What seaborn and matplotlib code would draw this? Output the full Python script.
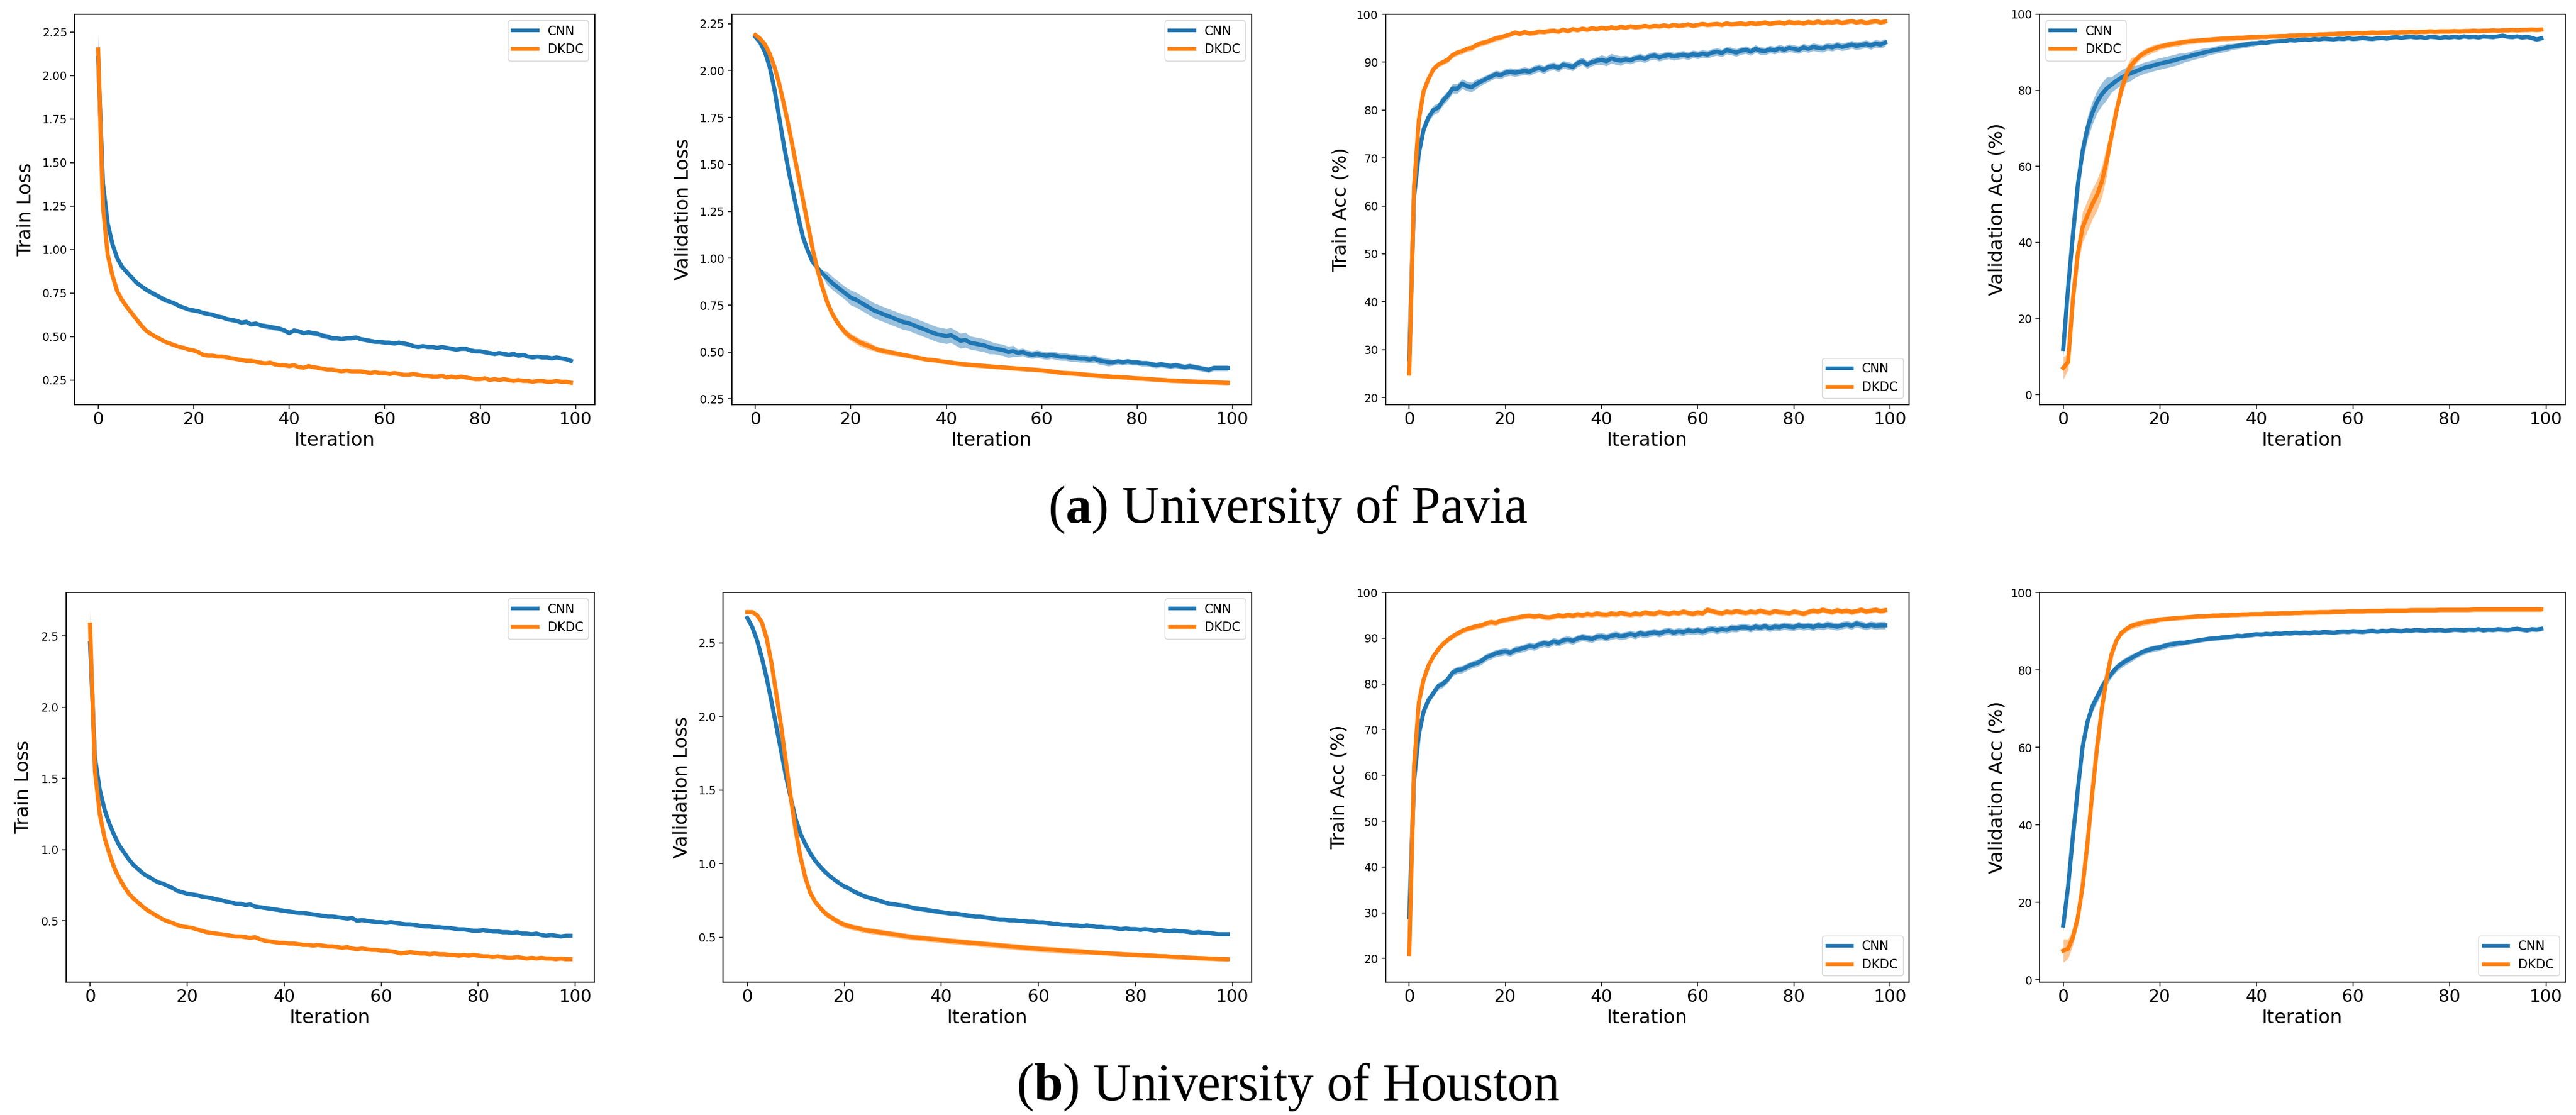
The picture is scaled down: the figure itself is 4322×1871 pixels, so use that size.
import numpy as np
import pandas as pd
import matplotlib
matplotlib.use("Agg")
import matplotlib.pyplot as plt
from matplotlib.lines import Line2D
import seaborn as sns

# ---------------- data ----------------
iterations = list(range(100))
models = ["CNN", "DKDC"]
colors = ["#1f77b4", "#ff7f0e"]

pavia_train_loss_cnn = [2.10,1.38,1.15,1.03,0.95,0.90,0.87,0.84,0.81,0.79,0.77,0.755,0.74,0.725,0.71,0.70,0.69,0.675,0.665,0.655,
 0.65,0.645,0.635,0.63,0.625,0.615,0.61,0.60,0.595,0.59,0.58,0.585,0.57,0.575,0.565,0.56,0.555,0.55,0.545,0.535,
 0.52,0.535,0.53,0.52,0.525,0.52,0.515,0.505,0.50,0.49,0.49,0.485,0.49,0.49,0.495,0.485,0.48,0.475,0.47,0.47,
 0.465,0.465,0.46,0.465,0.46,0.455,0.445,0.44,0.445,0.44,0.44,0.435,0.44,0.435,0.43,0.425,0.43,0.43,0.42,0.415,
 0.415,0.41,0.405,0.40,0.405,0.40,0.395,0.40,0.39,0.395,0.385,0.38,0.385,0.38,0.38,0.375,0.38,0.375,0.37,0.36]
pavia_train_loss_dkdc = [2.15,1.25,0.97,0.85,0.76,0.71,0.67,0.635,0.60,0.565,0.535,0.515,0.50,0.485,0.47,0.46,0.45,0.44,0.435,0.425,
 0.42,0.41,0.395,0.39,0.39,0.385,0.385,0.38,0.375,0.37,0.365,0.36,0.36,0.355,0.35,0.345,0.35,0.34,0.335,0.335,
 0.33,0.335,0.325,0.32,0.33,0.325,0.32,0.315,0.31,0.31,0.305,0.30,0.305,0.30,0.30,0.30,0.295,0.29,0.295,0.29,
 0.29,0.285,0.29,0.285,0.28,0.28,0.285,0.28,0.275,0.275,0.27,0.27,0.275,0.265,0.27,0.265,0.27,0.265,0.26,0.255,
 0.255,0.26,0.25,0.255,0.25,0.255,0.25,0.245,0.25,0.245,0.245,0.24,0.245,0.245,0.24,0.24,0.245,0.24,0.24,0.235]
pavia_val_loss_cnn = [2.18,2.15,2.10,2.02,1.90,1.75,1.60,1.46,1.34,1.22,1.11,1.04,0.98,0.95,0.92,0.895,0.87,0.85,0.83,0.81,
 0.79,0.78,0.765,0.75,0.735,0.72,0.71,0.70,0.69,0.68,0.67,0.66,0.655,0.645,0.635,0.625,0.615,0.605,0.595,0.59,
 0.585,0.59,0.575,0.56,0.565,0.55,0.545,0.54,0.535,0.525,0.52,0.515,0.51,0.50,0.505,0.495,0.50,0.49,0.485,0.49,
 0.485,0.48,0.485,0.48,0.475,0.475,0.47,0.47,0.465,0.465,0.46,0.465,0.455,0.45,0.445,0.445,0.45,0.445,0.45,0.445,
 0.445,0.44,0.44,0.435,0.43,0.435,0.43,0.425,0.43,0.425,0.42,0.425,0.42,0.415,0.41,0.405,0.415,0.415,0.415,0.415]
pavia_val_loss_dkdc = [2.19,2.17,2.14,2.09,2.02,1.93,1.82,1.70,1.57,1.44,1.31,1.18,1.05,0.94,0.85,0.77,0.71,0.665,0.63,0.60,
 0.58,0.565,0.55,0.54,0.53,0.52,0.51,0.505,0.50,0.495,0.49,0.485,0.48,0.475,0.47,0.465,0.46,0.458,0.455,0.45,
 0.447,0.444,0.44,0.437,0.434,0.432,0.43,0.428,0.426,0.424,0.422,0.42,0.418,0.416,0.414,0.412,0.41,0.408,0.407,0.405,
 0.403,0.40,0.397,0.394,0.39,0.388,0.387,0.385,0.383,0.38,0.378,0.376,0.374,0.372,0.37,0.368,0.368,0.366,0.364,0.362,
 0.36,0.359,0.357,0.355,0.353,0.352,0.35,0.348,0.347,0.346,0.345,0.344,0.343,0.342,0.341,0.34,0.339,0.338,0.337,0.336]
pavia_train_acc_cnn = [28,62,71,76,78.5,80,80.5,82,83,84.5,84.5,85.5,85,84.8,85.5,86,86.5,87,87.5,87.3,
 87.8,88,87.8,88,88.2,88,88.5,88.8,88.4,89,89.2,88.8,89.5,89.3,89,89.8,90.2,89.5,90,90.3,
 90.5,90.2,90.8,90.5,90.3,90.6,90.4,90.8,91,90.7,91.2,91.4,91,91.3,91.5,91.2,91.4,91.6,91.3,91.7,
 91.5,91.8,91.6,92,92.2,91.9,92.5,92.3,92,92.4,92.6,92.2,92.8,92.4,92.3,92.7,92.5,92.9,92.6,93,
 92.8,92.6,93.1,92.8,93.2,93,92.9,93.3,93.1,93.5,93.2,93.4,93.7,93.4,93.6,93.8,93.5,93.9,93.7,94.1]
pavia_train_acc_dkdc = [25,64,78,84,86.5,88.5,89.5,90,90.5,91.5,92,92.3,92.8,93,93.6,94,94.2,94.6,95,95.2,
 95.5,95.8,96.2,95.9,96.3,96,96.1,96.4,96.3,96.5,96.6,96.4,96.8,96.5,96.9,96.7,97,96.8,97.1,96.9,
 97.2,97,97.3,97.1,97.4,97.2,97.5,97.3,97.4,97.6,97.4,97.6,97.5,97.7,97.5,97.8,97.6,97.7,97.9,97.6,
 97.8,98,97.8,97.9,98,97.8,98.1,97.9,98,98.1,97.9,98.2,98,98.1,98.3,98,98.2,98.3,98.1,98.4,
 98.2,98.3,98.1,98.4,98.2,98.5,98.2,98.4,98.3,98.5,98.2,98.4,98.6,98.3,98.5,98.2,98.4,98.6,98.3,98.5]
pavia_val_acc_cnn = [12,28,42,55,64,70,74,77,79,80.5,81.5,82.5,83.3,84,84.5,85,85.5,86,86.3,86.7,
 87,87.3,87.6,87.9,88.3,88.6,88.9,89.3,89.6,89.9,90.2,90.5,90.8,91,91.3,91.5,91.7,91.9,92.1,92.3,
 92.4,92.6,92.5,92.8,92.9,93,93,93.2,93.1,93.3,93.4,93.3,93.5,93.4,93.6,93.5,93.4,93.6,93.5,93.7,
 93.5,93.6,93.8,93.6,93.5,93.7,93.8,93.6,93.9,94,93.8,94,94.1,93.9,94,93.8,94.1,94,93.8,94,
 93.9,94.1,93.9,94.2,94,94.1,93.9,94.2,94.1,94,94.2,94.4,94.1,94,94.2,93.9,94.1,93.8,93.4,93.7]
pavia_val_acc_dkdc = [7,8.5,25,37,44,47,50,52.5,56,61.5,68,74.5,80,84,86.5,88,89.2,90,90.6,91.1,
 91.5,91.8,92.1,92.3,92.5,92.7,92.9,93,93.1,93.2,93.3,93.4,93.5,93.6,93.6,93.7,93.8,93.8,93.9,94,
 94,94.1,94.1,94.2,94.2,94.3,94.3,94.4,94.4,94.5,94.5,94.6,94.6,94.7,94.7,94.8,94.8,94.9,94.9,95,
 95,95.1,95,95.1,95.2,95.1,95.2,95.2,95.3,95.2,95.3,95.3,95.4,95.3,95.4,95.4,95.5,95.4,95.5,95.5,
 95.5,95.6,95.5,95.6,95.6,95.7,95.6,95.7,95.7,95.8,95.7,95.8,95.8,95.9,95.8,95.9,95.9,96,95.9,96]
houston_train_loss_cnn = [2.45,1.65,1.42,1.28,1.18,1.10,1.03,0.98,0.93,0.89,0.86,0.83,0.81,0.79,0.77,0.76,0.745,0.73,0.71,0.70,
 0.69,0.685,0.68,0.67,0.665,0.66,0.65,0.645,0.635,0.63,0.62,0.62,0.61,0.615,0.60,0.595,0.59,0.585,0.58,0.575,
 0.57,0.565,0.56,0.555,0.555,0.55,0.545,0.54,0.535,0.53,0.53,0.525,0.52,0.515,0.52,0.50,0.505,0.50,0.495,0.49,
 0.49,0.485,0.49,0.485,0.48,0.475,0.475,0.47,0.465,0.46,0.46,0.455,0.455,0.45,0.45,0.445,0.44,0.44,0.435,0.43,
 0.43,0.435,0.43,0.425,0.425,0.42,0.42,0.415,0.42,0.41,0.41,0.405,0.41,0.40,0.395,0.40,0.395,0.39,0.395,0.395]
houston_train_loss_dkdc = [2.58,1.55,1.25,1.08,0.97,0.87,0.80,0.74,0.69,0.655,0.625,0.595,0.57,0.55,0.53,0.51,0.495,0.485,0.47,0.46,
 0.455,0.45,0.44,0.43,0.42,0.415,0.41,0.405,0.40,0.395,0.39,0.39,0.385,0.38,0.385,0.37,0.36,0.355,0.35,0.345,
 0.345,0.34,0.34,0.335,0.33,0.33,0.325,0.33,0.325,0.32,0.32,0.315,0.31,0.315,0.305,0.30,0.305,0.30,0.295,0.295,
 0.29,0.29,0.285,0.28,0.27,0.275,0.28,0.275,0.27,0.27,0.265,0.27,0.265,0.265,0.26,0.26,0.255,0.26,0.255,0.26,
 0.255,0.25,0.25,0.245,0.25,0.245,0.24,0.24,0.245,0.24,0.235,0.24,0.235,0.24,0.235,0.235,0.23,0.235,0.23,0.23]
houston_val_loss_cnn = [2.67,2.61,2.52,2.40,2.26,2.10,1.93,1.76,1.59,1.44,1.30,1.20,1.13,1.07,1.02,0.98,0.945,0.915,0.89,0.865,
 0.845,0.83,0.81,0.795,0.78,0.77,0.76,0.75,0.74,0.73,0.725,0.72,0.715,0.71,0.70,0.695,0.69,0.685,0.68,0.675,
 0.67,0.665,0.66,0.66,0.655,0.65,0.645,0.64,0.64,0.635,0.63,0.625,0.62,0.62,0.615,0.615,0.61,0.61,0.605,0.605,
 0.60,0.60,0.595,0.59,0.59,0.585,0.585,0.58,0.58,0.575,0.58,0.575,0.57,0.57,0.565,0.565,0.56,0.555,0.56,0.555,
 0.555,0.55,0.555,0.55,0.545,0.55,0.545,0.54,0.545,0.54,0.54,0.535,0.53,0.535,0.53,0.53,0.525,0.52,0.52,0.52]
houston_val_loss_dkdc = [2.71,2.71,2.69,2.64,2.53,2.36,2.15,1.93,1.68,1.44,1.22,1.04,0.90,0.80,0.74,0.70,0.665,0.64,0.62,0.60,
 0.585,0.575,0.565,0.56,0.55,0.545,0.54,0.535,0.53,0.525,0.52,0.515,0.51,0.505,0.50,0.497,0.494,0.49,0.487,0.484,
 0.48,0.477,0.474,0.471,0.468,0.465,0.462,0.459,0.456,0.453,0.45,0.447,0.444,0.441,0.438,0.435,0.432,0.429,0.426,0.423,
 0.42,0.418,0.416,0.414,0.411,0.409,0.407,0.405,0.403,0.401,0.399,0.397,0.395,0.393,0.391,0.389,0.387,0.385,0.383,0.381,
 0.38,0.378,0.376,0.375,0.373,0.371,0.37,0.368,0.366,0.365,0.363,0.361,0.36,0.358,0.357,0.355,0.354,0.352,0.351,0.35]
houston_train_acc_cnn = [29,59,69,74,76.5,78,79.5,80,81,82.5,83,83.2,83.7,84.2,84.5,85,85.8,86.2,86.7,86.9,
 87.1,86.8,87.4,87.6,87.9,88.3,88.1,88.6,88.9,88.7,89.3,89,89.5,89.7,89.4,89.9,90.2,90,89.8,90.3,
 90.4,90.1,90.5,90.7,90.4,90.6,90.9,90.6,91.1,90.8,91.1,91.3,91,91.4,91.6,91.2,91.5,91.3,91.7,91.5,
 91.7,91.4,91.8,92,91.7,92,91.8,92.2,92.1,92.4,92.4,92.1,92.5,92.3,92.6,92.2,92.5,92.4,92.7,92.5,
 92.4,92.8,92.5,92.7,92.4,92.8,92.6,92.9,92.7,92.5,92.8,93,92.7,93.2,92.9,92.6,92.9,92.7,92.8,92.8]
houston_train_acc_dkdc = [21,62,76,81,84,86,87.5,88.7,89.6,90.4,91,91.6,92,92.3,92.6,92.8,93.2,93.5,93.3,93.8,
 94,94.2,94.4,94.6,94.8,94.9,94.7,94.9,94.6,94.5,94.7,95,94.8,95.1,94.9,95.2,95,95.3,95.1,95.4,
 95.2,95.1,95.4,95.2,95.5,95.3,95.1,95.4,95.2,95.6,95.4,95.3,95.7,95.5,95.3,95.6,95.4,95.8,95.5,95.3,
 95.6,95.4,96.2,95.9,95.6,95.4,95.8,95.6,95.9,95.7,95.5,95.8,95.6,96,95.7,95.5,95.9,95.7,95.6,95.4,
 95.8,95.6,95.3,95.7,96,95.8,96.2,95.9,95.7,96.1,95.8,96,95.7,95.9,96.2,95.8,96,96.2,95.9,96.1]
houston_val_acc_cnn = [14,24,37,49,60,66.5,70.5,73,75.5,77.5,79,80.5,81.5,82.3,83,83.7,84.4,84.9,85.3,85.6,
 85.8,86.2,86.5,86.7,86.9,87,87.2,87.4,87.6,87.8,88,88.1,88.2,88.4,88.5,88.6,88.8,88.7,88.9,89,
 89.2,89.1,89.3,89.2,89.4,89.3,89.5,89.4,89.6,89.5,89.6,89.5,89.7,89.6,89.8,89.7,89.6,89.8,89.9,89.8,
 90,89.9,89.8,90,90.1,89.9,90.1,90,90.2,90.1,90,90.2,90.1,90.3,90.2,90.1,90.3,90.2,90.3,90.1,
 90.2,90.4,90.3,90.2,90.4,90.3,90.5,90.2,90.4,90.3,90.5,90.4,90.3,90.5,90.6,90.4,90.2,90.5,90.4,90.6]
houston_val_acc_dkdc = [7.5,8,11,16,24,35,48,60,70,78,84,87.5,89.5,90.5,91.3,91.7,92,92.3,92.5,92.7,
 93,93.1,93.2,93.3,93.4,93.5,93.6,93.7,93.8,93.8,93.9,94,94,94.1,94.1,94.2,94.2,94.3,94.3,94.4,
 94.4,94.4,94.5,94.5,94.5,94.6,94.6,94.6,94.7,94.7,94.8,94.8,94.8,94.9,94.9,94.9,95,95,95,95.1,
 95.1,95.1,95.1,95.2,95.2,95.2,95.2,95.3,95.3,95.3,95.3,95.3,95.4,95.4,95.4,95.4,95.4,95.4,95.5,95.5,
 95.5,95.5,95.5,95.5,95.5,95.6,95.6,95.6,95.6,95.6,95.6,95.6,95.6,95.6,95.6,95.6,95.6,95.6,95.6,95.6]

# run-to-run spread: first five iterations individually, then one value per block of five iterations
pavia_train_loss_cnn_sd = [0.14,0.03,0.02,0.015,0.015] + [0.012,0.015,0.012,0.012,0.012,0.012,0.015,0.012,0.015,0.012,0.012,0.012,0.012,0.012,0.012,0.012,0.012,0.012,0.012]
pavia_train_loss_dkdc_sd = [0.02,0.02,0.015,0.01,0.01] + [0.008]*19
pavia_val_loss_cnn_sd = [0.01]*5 + [0.01,0.015,0.035,0.04,0.04,0.04,0.04,0.04,0.035,0.03,0.02,0.02,0.02,0.02,0.015,0.015,0.015,0.015,0.015]
pavia_val_loss_dkdc_sd = [0.01]*5 + [0.01,0.012,0.02,0.02,0.015,0.012,0.012,0.012,0.012,0.012,0.012,0.012,0.012,0.012,0.012,0.012,0.012,0.012,0.012]
pavia_train_acc_cnn_sd = [3,2,1.5,1.0,1.0] + [1.0,1.0,0.8,0.8,0.8,0.8,0.8,1.0,0.8,0.8,0.8,0.8,0.8,0.8,0.8,0.8,0.8,0.8,0.8]
pavia_train_acc_dkdc_sd = [1.5,1.5,1.0,0.8,0.6] + [0.6,0.6,0.6,0.5,0.5,0.5,0.5,0.5,0.5,0.5,0.5,0.5,0.5,0.5,0.5,0.5,0.5,0.5,0.5]
pavia_val_acc_cnn_sd = [2,3,4,4,3] + [3,2,1.5,1.5,1.2,1.0,0.8,0.6,0.5,0.5,0.5,0.5,0.5,0.5,0.5,0.5,0.5,0.5,0.6]
pavia_val_acc_dkdc_sd = [3,2,2,3,4] + [4,2,1,0.8,0.7,0.7,0.7,0.6,0.6,0.6,0.6,0.6,0.6,0.6,0.6,0.6,0.6,0.6,0.6]
houston_train_loss_cnn_sd = [0.05,0.03,0.02,0.015,0.015] + [0.012]*19
houston_train_loss_dkdc_sd = [0.1,0.02,0.015,0.01,0.01] + [0.01]*19
houston_val_loss_cnn_sd = [0.01]*5 + [0.01,0.012,0.012,0.015,0.015,0.015,0.015,0.015,0.015,0.015,0.012,0.012,0.012,0.012,0.012,0.012,0.012,0.012,0.012]
houston_val_loss_dkdc_sd = [0.01]*5 + [0.01,0.01,0.02,0.02,0.02,0.02,0.02,0.02,0.02,0.02,0.02,0.02,0.02,0.015,0.015,0.015,0.015,0.015,0.015]
houston_train_acc_cnn_sd = [2,1.5,1,1,0.8] + [0.8]*19
houston_train_acc_dkdc_sd = [1,1,0.8,0.6,0.6] + [0.6]*19
houston_val_acc_cnn_sd = [1.5]*5 + [1.5,1.0,0.8,0.8,0.6,0.6,0.6,0.6,0.6,0.6,0.6,0.6,0.6,0.6,0.6,0.6,0.6,0.6,0.6]
houston_val_acc_dkdc_sd = [3,2.5,2,2,1.5] + [1.2,0.8,0.8,0.6,0.6,0.6,0.6,0.6,0.6,0.6,0.6,0.6,0.6,0.6,0.6,0.6,0.6,0.6,0.6]

y_labels = ["Train Loss", "Validation Loss", "Train Acc (%)", "Validation Acc (%)"]
titles = [r"($\mathbf{a}$) University of Pavia", r"($\mathbf{b}$) University of Houston"]

panels = [
    (pavia_train_loss_cnn, pavia_train_loss_dkdc, pavia_train_loss_cnn_sd, pavia_train_loss_dkdc_sd),
    (pavia_val_loss_cnn, pavia_val_loss_dkdc, pavia_val_loss_cnn_sd, pavia_val_loss_dkdc_sd),
    (pavia_train_acc_cnn, pavia_train_acc_dkdc, pavia_train_acc_cnn_sd, pavia_train_acc_dkdc_sd),
    (pavia_val_acc_cnn, pavia_val_acc_dkdc, pavia_val_acc_cnn_sd, pavia_val_acc_dkdc_sd),
    (houston_train_loss_cnn, houston_train_loss_dkdc, houston_train_loss_cnn_sd, houston_train_loss_dkdc_sd),
    (houston_val_loss_cnn, houston_val_loss_dkdc, houston_val_loss_cnn_sd, houston_val_loss_dkdc_sd),
    (houston_train_acc_cnn, houston_train_acc_dkdc, houston_train_acc_cnn_sd, houston_train_acc_dkdc_sd),
    (houston_val_acc_cnn, houston_val_acc_dkdc, houston_val_acc_cnn_sd, houston_val_acc_dkdc_sd),
]

# ---------------- layout / style ----------------
W, H = 4322, 1871
plt.rcParams.update({
    "mathtext.fontset": "custom",
    "mathtext.rm": "Liberation Serif",
    "mathtext.bf": "Liberation Serif:bold",
    "axes.linewidth": 1.3,
})

# axes boxes in pixels: (left, right, top, bottom)
boxes_px = [
    (125, 997.5, 24, 678.6), (1227.7, 2099.6, 24, 678.6),
    (2324.5, 3203, 24, 678.6), (3421.6, 4304, 24, 678.6),
    (110.8, 997.4, 994, 1647.6), (1213.5, 2100, 994, 1647.6),
    (2324.5, 3203, 994, 1647.6), (3421.6, 4304, 994, 1647.6),
]
ylims = [(0.110, 2.351), (0.221, 2.300), (18.56, 100), (-2.6, 100),
         (0.0706, 2.807), (0.196, 2.844), (14.9, 100), (-0.54, 100)]
yticks = [np.arange(0.25, 2.26, 0.25), np.arange(0.25, 2.26, 0.25), np.arange(20, 101, 10), np.arange(0, 101, 20),
          np.arange(0.5, 2.51, 0.5), np.arange(0.5, 2.51, 0.5), np.arange(20, 101, 10), np.arange(0, 101, 20)]
ytick_fmt = ["%.2f", "%.2f", "%d", "%d", "%.1f", "%.1f", "%d", "%d"]
legend_locs = ["upper right", "upper right", "lower right", "upper left",
               "upper right", "upper right", "lower right", "lower right"]
labelpads = [8.5, 8.5, 8, 5, 9.5, 8, 10, 5]

fig = plt.figure(figsize=(W / 100, H / 100), dpi=100)

for i, (cnn, dkdc, cnn_sd, dkdc_sd) in enumerate(panels):
    l, r, t, b = boxes_px[i]
    ax = fig.add_axes([l / W, 1 - b / H, (r - l) / W, (b - t) / H])
    rows = []
    for name, mean, sd in ((models[0], cnn, cnn_sd), (models[1], dkdc, dkdc_sd)):
        spread = np.concatenate([sd[:5], np.repeat(sd[5:], 5)])
        for k in (-1, 0, 1):
            rows.append(pd.DataFrame({"Iteration": iterations,
                                      "value": np.asarray(mean) + k * spread,
                                      "model": name}))
    df = pd.concat(rows, ignore_index=True)
    sns.lineplot(data=df, x="Iteration", y="value", hue="model", hue_order=models,
                 palette=colors, errorbar="sd", linewidth=5, legend=False,
                 err_kws={"alpha": 0.45, "linewidth": 0}, ax=ax)
    ax.set_xlim(-4.95, 103.95)
    ax.set_ylim(*ylims[i])
    ax.set_xticks(np.arange(0, 101, 20))
    ax.set_yticks(yticks[i])
    ax.set_yticklabels([ytick_fmt[i] % v for v in yticks[i]])
    ax.tick_params(axis="x", labelsize=21, length=5, width=1.1)
    ax.tick_params(axis="y", labelsize=13.7, length=5, width=1.1)
    ax.set_xlabel("Iteration", fontsize=23)
    ax.set_ylabel(y_labels[i % 4], fontsize=23, labelpad=labelpads[i])
    handles = [Line2D([], [], color=c, lw=4.5) for c in colors]
    ax.legend(handles, models, loc=legend_locs[i], fontsize=15)

fig.text(0.5, 1 - 877 / H, titles[0], ha="center", va="baseline",
         fontsize=63, family="Liberation Serif")
fig.text(0.5, 1 - 1846 / H, titles[1], ha="center", va="baseline",
         fontsize=63, family="Liberation Serif")

fig.savefig("out.png", dpi=100, facecolor="white")
